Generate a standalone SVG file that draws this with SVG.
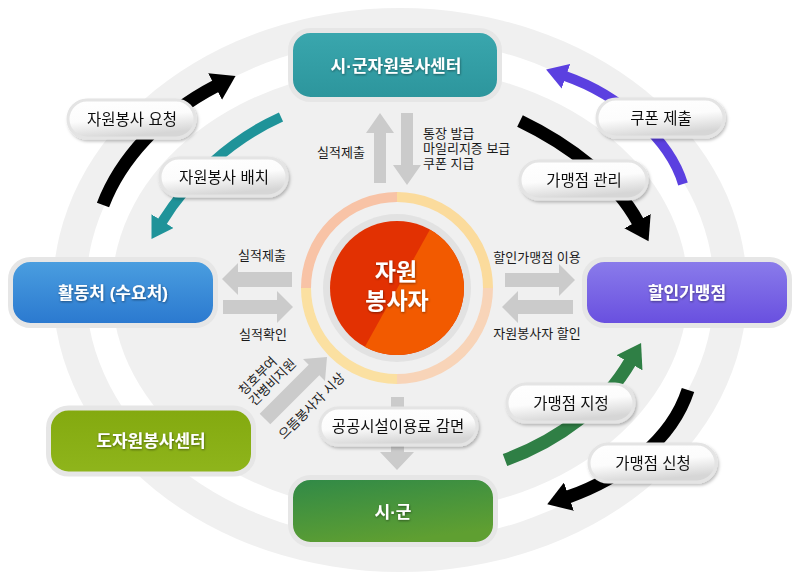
<svg xmlns="http://www.w3.org/2000/svg" width="800" height="585" viewBox="0 0 800 585">
<defs>
<style>
text{font-family:'Liberation Sans','Noto Sans CJK KR',sans-serif}
.bt{fill:#fff;font-size:17px;font-weight:bold;text-anchor:middle}
.pt{fill:#111;font-size:15.5px;text-anchor:middle}
.st{fill:#1a1a1a;font-size:13px}
.pill{fill:url(#gPill);stroke:#e4e4e4;stroke-width:3}
.box{stroke:#e6e6e6;stroke-width:5}
.ga{fill:#cbcbcb}
</style>
<linearGradient id="gPill" x1="0" y1="0" x2="0.3" y2="1"><stop offset="0" stop-color="#fff"/><stop offset="0.55" stop-color="#fcfcfc"/><stop offset="1" stop-color="#d6d6d6"/></linearGradient>
<linearGradient id="gTeal" x1="0" y1="0" x2="0" y2="1"><stop offset="0" stop-color="#3aa7ae"/><stop offset="1" stop-color="#2c959c"/></linearGradient>
<linearGradient id="gBlue" x1="0" y1="0" x2="0" y2="1"><stop offset="0" stop-color="#4b9fe0"/><stop offset="1" stop-color="#2a78cf"/></linearGradient>
<linearGradient id="gPurp" x1="0" y1="0" x2="0" y2="1"><stop offset="0" stop-color="#8b7deb"/><stop offset="1" stop-color="#684edf"/></linearGradient>
<linearGradient id="gOlive" x1="0" y1="0" x2="0" y2="1"><stop offset="0" stop-color="#83a90f"/><stop offset="1" stop-color="#8fb51c"/></linearGradient>
<linearGradient id="gGreen" x1="0" y1="0" x2="0.4" y2="1"><stop offset="0" stop-color="#2f8948"/><stop offset="1" stop-color="#5f9f31"/></linearGradient>
<filter id="sh" x="-10%" y="-20%" width="125%" height="150%"><feDropShadow dx="1.5" dy="2" stdDeviation="1.5" flood-color="#000" flood-opacity="0.25"/></filter>
<filter id="ts" x="-10%" y="-30%" width="120%" height="160%"><feDropShadow dx="0.5" dy="1" stdDeviation="1" flood-color="#000" flood-opacity="0.45"/></filter>
<clipPath id="cDisc"><circle cx="397" cy="288" r="67"/></clipPath>
<marker id="mBlack" markerUnits="userSpaceOnUse" viewBox="0 0 24 30" refX="1" refY="15" markerWidth="24" markerHeight="30" orient="auto"><path d="M0,0 L23,15 L0,30 Z" fill="#000"/></marker>
<marker id="mTeal" markerUnits="userSpaceOnUse" viewBox="0 0 22 26" refX="1" refY="13" markerWidth="22" markerHeight="26" orient="auto"><path d="M0,0 L21,13 L0,26 Z" fill="#1f9399"/></marker>
<marker id="mPurp" markerUnits="userSpaceOnUse" viewBox="0 0 22 26" refX="1" refY="13" markerWidth="22" markerHeight="26" orient="auto"><path d="M0,0 L21,13 L0,26 Z" fill="#5b40e0"/></marker>
<marker id="mGreen" markerUnits="userSpaceOnUse" viewBox="0 0 24 30" refX="1" refY="15" markerWidth="24" markerHeight="30" orient="auto"><path d="M0,0 L23,15 L0,30 Z" fill="#2f7f45"/></marker>
</defs>

<rect width="800" height="585" fill="#fff"/>
<g id="background">
<ellipse cx="400" cy="290" rx="347" ry="282" fill="#f0f0f0"/>
<ellipse cx="400" cy="290" rx="314" ry="251" fill="#fff"/>
<ellipse cx="400" cy="290" rx="288" ry="223" fill="#f0f0f0"/>
</g>

<g id="connectors">
<path d="M103,205 C120,160 160,115 216,86" fill="none" stroke="#000" stroke-width="13" marker-end="url(#mBlack)"/>
<path d="M281,117 C230,140 188,180 162,222" fill="none" stroke="#1f9399" stroke-width="10" marker-end="url(#mTeal)"/>
<path d="M683,184 C670,140 620,95 565,76" fill="none" stroke="#5b40e0" stroke-width="10" marker-end="url(#mPurp)"/>
<path d="M520,121 C570,145 615,180 638,222" fill="none" stroke="#000" stroke-width="13" marker-end="url(#mBlack)"/>
<path d="M505,460 C560,440 605,405 630,362" fill="none" stroke="#2f7f45" stroke-width="13" marker-end="url(#mGreen)"/>
<path d="M688,390 C672,440 622,478 568,497" fill="none" stroke="#000" stroke-width="13" marker-end="url(#mBlack)"/>
<polygon class="ga" points="380,113 394,133 386,133 386,183 374,183 374,133 366,133"/>
<polygon class="ga" points="407,185 421,165 413,165 413,113 401,113 401,165 393,165"/>
<polygon class="ga" points="222,279 238,263 238,272 292,272 292,287 238,287 238,295"/>
<polygon class="ga" points="293,307 277,291 277,300 223,300 223,314 277,314 277,323"/>
<polygon class="ga" points="575,280 559,264 559,273 505,273 505,287 559,287 559,296"/>
<polygon class="ga" points="502,307 518,291 518,300 573,300 573,314 518,314 518,323"/>
<polygon class="ga" points="259.7,413.7 308.7,364.7 303,359 327,357 325,381 319.3,375.3 270.3,424.3"/>
<polygon class="ga" points="391,397 404,397 404,452 414,452 397,470 380,452 391,452"/>
</g>

<g id="center">
<path d="M306,288 A91,91 0 0 1 397,197" fill="none" stroke="#f8c3a6" stroke-width="10"/>
<path d="M397,197 A91,91 0 0 1 488,288" fill="none" stroke="#fbdb9c" stroke-width="10"/>
<path d="M488,288 A91,91 0 0 1 397,379" fill="none" stroke="#f8d4b8" stroke-width="10"/>
<path d="M397,379 A91,91 0 0 1 306,288" fill="none" stroke="#fbe0a1" stroke-width="10"/>
<circle cx="397" cy="288" r="74" fill="#e2e2e2"/>
<circle cx="397" cy="288" r="67" fill="#e23102"/>
<polygon points="443,206 352,370 470,370 470,206" fill="#f25a00" clip-path="url(#cDisc)"/>
<text x="396" y="280" class="bt" style="font-size:23px" filter="url(#ts)">자원</text>
<text x="397" y="309" class="bt" style="font-size:23px" filter="url(#ts)">봉사자</text>
</g>

<g id="node-sigun-center">
<rect x="290.5" y="30.5" width="209" height="69" rx="20" class="box" fill="url(#gTeal)"/>
<text x="396" y="72" class="bt" filter="url(#ts)">시·군자원봉사센터</text>
</g>
<g id="node-hwaldongcheo">
<rect x="10.5" y="259.5" width="205" height="66" rx="20" class="box" fill="url(#gBlue)"/>
<text x="113" y="299" class="bt" filter="url(#ts)">활동처 (수요처)</text>
</g>
<g id="node-discount-store">
<rect x="584.5" y="259.5" width="205" height="66" rx="20" class="box" fill="url(#gPurp)"/>
<text x="687" y="299" class="bt" filter="url(#ts)">할인가맹점</text>
</g>
<g id="node-do-center">
<rect x="48.5" y="408" width="205" height="66" rx="20" class="box" fill="url(#gOlive)"/>
<text x="151" y="447" class="bt" filter="url(#ts)">도자원봉사센터</text>
</g>
<g id="node-sigun">
<rect x="290.5" y="477.5" width="205" height="67" rx="20" class="box" fill="url(#gGreen)"/>
<text x="393" y="518" class="bt" filter="url(#ts)">시·군</text>
</g>

<g id="labels">
<text x="317" y="157" class="st">실적제출</text>
<text x="423" y="138" class="st">통장 발급</text>
<text x="423" y="153" class="st">마일리지증 보급</text>
<text x="423" y="168" class="st">쿠폰 지급</text>
<text x="262" y="260" class="st" text-anchor="middle">실적제출</text>
<text x="263" y="339" class="st" text-anchor="middle">실적확인</text>
<text x="537" y="262" class="st" text-anchor="middle">할인가맹점 이용</text>
<text x="537" y="338" class="st" text-anchor="middle">자원봉사자 할인</text>
<g transform="rotate(-45 244 396)">
<text x="244" y="396" class="st">칭호부여</text>
<text x="244" y="411" class="st">간병비지원</text>
</g>
<text x="284" y="440" class="st" transform="rotate(-45 284 440)">으뜸봉사자 시상</text>
</g>

<g id="pill-request" filter="url(#sh)"><rect x="68" y="100" width="127" height="38" rx="19" class="pill"/><text x="132" y="124.5" class="pt">자원봉사 요청</text></g>
<g id="pill-dispatch" filter="url(#sh)"><rect x="160" y="158" width="127" height="38" rx="19" class="pill"/><text x="224" y="182.5" class="pt">자원봉사 배치</text></g>
<g id="pill-coupon" filter="url(#sh)"><rect x="597" y="99" width="127" height="38" rx="19" class="pill"/><text x="661" y="123.5" class="pt">쿠폰 제출</text></g>
<g id="pill-manage" filter="url(#sh)"><rect x="520" y="161" width="127" height="38" rx="19" class="pill"/><text x="584" y="185.5" class="pt">가맹점 관리</text></g>
<g id="pill-designate" filter="url(#sh)"><rect x="507" y="384" width="127" height="38" rx="19" class="pill"/><text x="571" y="408.5" class="pt">가맹점 지정</text></g>
<g id="pill-apply" filter="url(#sh)"><rect x="589" y="444" width="127" height="38" rx="19" class="pill"/><text x="653" y="468.5" class="pt">가맹점 신청</text></g>
<g id="pill-public" filter="url(#sh)"><rect x="320" y="408" width="157" height="37" rx="18.5" class="pill"/><text x="398" y="432" class="pt">공공시설이용료 감면</text></g>
</svg>
